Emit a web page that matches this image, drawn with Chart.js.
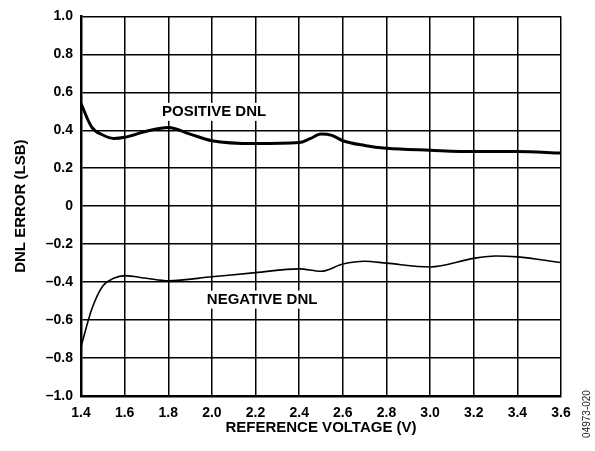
<!DOCTYPE html>
<html lang="en">
<head>
  <meta charset="UTF-8">
  <title>DNL Error vs Reference Voltage</title>
  <style>
    html, body { margin: 0; padding: 0; background: #fff; }
    #wrap { width: 595px; height: 451px; position: relative; }
  </style>
</head>
<body>
  <div id="wrap"><canvas id="chart" width="595" height="451"></canvas></div>

  <script src="https://cdn.jsdelivr.net/npm/chart.js"></script>
  <script>
    // data
    const voltage = [1.4, 1.45, 1.5, 1.55, 1.6, 1.7, 1.8, 1.9, 2.0, 2.2, 2.4, 2.45, 2.5, 2.55, 2.6, 2.7, 2.8, 3.0, 3.2, 3.4, 3.6];
    const positiveDnl = [0.54, 0.415, 0.375, 0.357, 0.363, 0.395, 0.415, 0.38, 0.345, 0.33, 0.335, 0.356, 0.38, 0.373, 0.345, 0.32, 0.305, 0.295, 0.288, 0.288, 0.28];

    const voltageNeg = [1.4, 1.45, 1.5, 1.55, 1.6, 1.7, 1.8, 2.0, 2.2, 2.4, 2.5, 2.6, 2.7, 2.8, 3.0, 3.2, 3.3, 3.4, 3.6];
    const negativeDnl = [-0.74, -0.54, -0.42, -0.38, -0.366, -0.38, -0.393, -0.372, -0.35, -0.33, -0.343, -0.305, -0.29, -0.30, -0.32, -0.275, -0.262, -0.267, -0.297];

    const xTicks = [1.4, 1.6, 1.8, 2.0, 2.2, 2.4, 2.6, 2.8, 3.0, 3.2, 3.4, 3.6];
    const yTicks = [-1.0, -0.8, -0.6, -0.4, -0.2, 0, 0.2, 0.4, 0.6, 0.8, 1.0];

    const seriesLabels = [
      { text: 'POSITIVE DNL', x: 2.01, y: 0.497 },
      { text: 'NEGATIVE DNL', x: 2.23, y: -0.492 }
    ];

    const fontFam = '"Liberation Sans", Arial, Helvetica, sans-serif';

    function fmt(v) {
      if (Math.abs(v) < 1e-9) return '0';
      const s = Math.abs(v).toFixed(1);
      return v < 0 ? '\u2013' + s : s;
    }

    const labelPlugin = {
      id: 'labels',
      afterDatasetsDraw(chart) {
        const ctx = chart.ctx;
        const xs = chart.scales.x, ys = chart.scales.y;
        ctx.save();
        ctx.font = 'bold 15px ' + fontFam;
        ctx.textAlign = 'center';
        ctx.textBaseline = 'middle';
        seriesLabels.forEach(l => {
          const px = xs.getPixelForValue(l.x);
          const py = ys.getPixelForValue(l.y);
          const w = ctx.measureText(l.text).width;
          ctx.fillStyle = '#fff';
          ctx.fillRect(px - w / 2 - 3, py - 9, w + 6, 18);
          ctx.fillStyle = '#000';
          ctx.fillText(l.text, px, py);
        });
        // figure number on the right edge
        ctx.font = '10px ' + fontFam;
        ctx.fillStyle = '#222';
        ctx.translate(587, 414);
        ctx.rotate(-Math.PI / 2);
        ctx.fillText('04973-020', 0, 0);
        ctx.restore();
      }
    };

    new Chart(document.getElementById('chart').getContext('2d'), {
      type: 'line',
      data: {
        datasets: [
          {
            label: 'Positive DNL',
            data: voltage.map((v, i) => ({ x: v, y: positiveDnl[i] })),
            borderColor: '#000',
            borderWidth: 3,
            pointRadius: 0,
            cubicInterpolationMode: 'monotone',
            fill: false
          },
          {
            label: 'Negative DNL',
            data: voltageNeg.map((v, i) => ({ x: v, y: negativeDnl[i] })),
            borderColor: '#000',
            borderWidth: 1.6,
            pointRadius: 0,
            cubicInterpolationMode: 'monotone',
            fill: false
          }
        ]
      },
      options: {
        responsive: false,
        animation: false,
        layout: { padding: { left: 0, top: 13, right: 34, bottom: 0 } },
        plugins: {
          legend: { display: false },
          tooltip: { enabled: false }
        },
        scales: {
          x: {
            type: 'linear',
            min: 1.4,
            max: 3.6,
            afterBuildTicks: s => { s.ticks = xTicks.map(v => ({ value: v })); },
            afterFit: s => { s.height = 55; },
            grid: { color: '#000', lineWidth: 1.5, drawTicks: false },
            border: { color: '#000', width: 2.5 },
            ticks: {
              color: '#000',
              padding: 9,
              maxRotation: 0,
              font: { family: fontFam, size: 14, weight: 'bold' },
              callback: v => fmt(v)
            },
            title: {
              display: true,
              text: 'REFERENCE VOLTAGE (V)',
              color: '#000',
              padding: { top: 0, bottom: 14 },
              font: { family: fontFam, size: 15, weight: 'bold' }
            }
          },
          y: {
            type: 'linear',
            min: -1.0,
            max: 1.0,
            afterBuildTicks: s => { s.ticks = yTicks.map(v => ({ value: v })); },
            afterFit: s => { s.width = 81; },
            grid: { color: '#000', lineWidth: 1.5, drawTicks: false },
            border: { color: '#000', width: 2.5 },
            ticks: {
              color: '#000',
              padding: 8,
              font: { family: fontFam, size: 14, weight: 'bold' },
              callback: v => fmt(v)
            },
            title: {
              display: true,
              text: 'DNL ERROR (LSB)',
              color: '#000',
              padding: { top: 12, bottom: 0 },
              font: { family: fontFam, size: 15, weight: 'bold' }
            }
          }
        }
      },
      plugins: [labelPlugin]
    });
  </script>
</body>
</html>
